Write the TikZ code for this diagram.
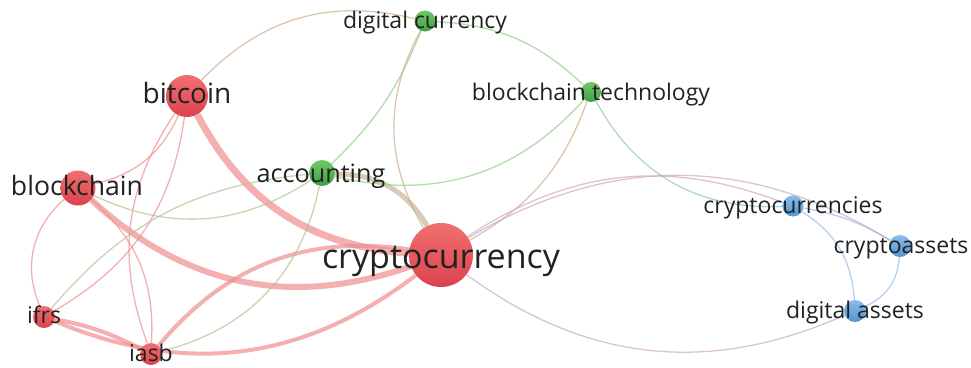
\documentclass[tikz,border=0pt]{standalone}
\usepackage{fontspec}
\setmainfont{Open Sans}
\pgfdeclarelayer{background}
\pgfsetlayers{background,main}
\definecolor{redTop}{RGB}{240,112,112}
\definecolor{redBot}{RGB}{220,66,78}
\definecolor{greenTop}{RGB}{112,200,100}
\definecolor{greenBot}{RGB}{62,160,70}
\definecolor{blueTop}{RGB}{136,188,236}
\definecolor{blueBot}{RGB}{82,148,212}
\definecolor{redEdge}{RGB}{240,140,140}
\definecolor{greenEdge}{RGB}{140,205,130}
\definecolor{tanEdge}{RGB}{200,180,145}
\definecolor{brownEdge}{RGB}{205,170,140}
\definecolor{mixEdge}{RGB}{180,190,140}
\definecolor{blueEdge}{RGB}{150,185,230}
\definecolor{purpEdge}{RGB}{205,165,195}
\definecolor{gbEdge}{RGB}{140,195,190}
\definecolor{labelText}{RGB}{34,34,34}
\begin{document}
\begin{tikzpicture}[x=1pt,y=-1pt,
  edge/.style={line width=1.3pt, draw opacity=0.68},
  redE/.style={edge, draw=redEdge},
  greenE/.style={edge, draw=greenEdge},
  tanE/.style={edge, draw=tanEdge},
  brownE/.style={edge, draw=brownEdge},
  mixE/.style={edge, draw=mixEdge},
  blueE/.style={edge, draw=blueEdge},
  purpE/.style={edge, draw=purpEdge},
  gbE/.style={edge, draw=gbEdge},
  nd/.style={circle, inner sep=0pt, draw=none},
  rnd/.style={nd, top color=redTop, bottom color=redBot},
  gnd/.style={nd, top color=greenTop, bottom color=greenBot},
  bnd/.style={nd, top color=blueTop, bottom color=blueBot},
  lab/.style={anchor=base, inner sep=0pt, text=labelText},
  fs/.style={font=\fontsize{#1}{#1}\selectfont}
]
\useasboundingbox (0,0) rectangle (971,367);

% nodes
\node[rnd, minimum size=64pt] (crypto) at (441,255) {};
\node[rnd, minimum size=42pt] (bitcoin) at (187,96) {};
\node[rnd, minimum size=35pt] (blockchain) at (78,188) {};
\node[gnd, minimum size=26pt] (accounting) at (322,173) {};
\node[gnd, minimum size=21pt] (dcur) at (425,21) {};
\node[gnd, minimum size=20pt] (btech) at (591,92) {};
\node[bnd, minimum size=21pt] (ccies) at (793,206) {};
\node[bnd, minimum size=22pt] (cassets) at (900,246) {};
\node[bnd, minimum size=22pt] (dassets) at (855,311) {};
\node[rnd, minimum size=22pt] (ifrs) at (44,317) {};
\node[rnd, minimum size=22pt] (iasb) at (151,354) {};

% edges
\begin{pgfonlayer}{background}
\fill[white] (0,0) rectangle (971,367);
\draw[redE, line width=7pt] (bitcoin) to[bend right=29] (crypto);
\draw[redE, line width=6pt] (blockchain) to[bend right=31] (crypto);
\draw[redE, line width=4pt] (iasb) to[bend left=29] (crypto);
\draw[redE, line width=4pt] (ifrs) to[bend right=30] (crypto);
\draw[redE, line width=4pt] (ifrs) to[bend left=8] (iasb);
\draw[redE] (blockchain) to[bend right=26] (bitcoin);
\draw[redE] (bitcoin) to[bend left=26] (ifrs);
\draw[redE] (bitcoin) to[bend right=27] (iasb);
\draw[redE] (blockchain) to[bend right=36] (ifrs);
\draw[redE] (blockchain) to[bend left=26] (iasb);
\draw[mixE] (blockchain) to[bend right=29] (accounting);
\draw[mixE] (ifrs) to[bend left=22] (accounting);
\draw[mixE] (iasb) to[bend right=32] (accounting);
\draw[tanE, line width=5pt] (accounting) to[bend left=30] (crypto);
\draw[greenE] (accounting) to[bend right=12] (dcur);
\draw[brownE] (dcur) to[bend right=29] (crypto);
\draw[brownE] (bitcoin) to[bend left=30] (dcur);
\draw[greenE] (dcur) to[bend left=20] (btech);
\draw[greenE] (accounting) to[bend right=31] (btech);
\draw[brownE] (btech) to[bend left=20] (crypto);
\draw[gbE] (btech) to[bend right=32] (ccies);
\draw[purpE] (crypto) to[bend left=27] (ccies);
\draw[purpE] (crypto) to[bend left=31] (cassets);
\draw[purpE] (crypto) to[bend right=30] (dassets);
\draw[blueE] (ccies) to[bend left=10] (cassets);
\draw[blueE] (ccies) to[bend left=27] (dassets);
\draw[blueE] (cassets) to[bend left=31] (dassets);
\end{pgfonlayer}

% labels
\node[lab, fs=34] (crypto-l) at (441,268) {cryptocurrency};
\node[lab, fs=28] (bitcoin-l) at (187,103) {bitcoin};
\node[lab, fs=26.6] (blockchain-l) at (77,195) {blockchain};
\node[lab, fs=25.2] (accounting-l) at (321,182) {accounting};
\node[lab, fs=23] (dcur-l) at (425,28) {digital currency};
\node[lab, fs=23] (btech-l) at (591,100) {blockchain technology};
\node[lab, fs=23] (ccies-l) at (793,213) {cryptocurrencies};
\node[lab, fs=23] (cassets-l) at (901,253) {cryptoassets};
\node[lab, fs=23] (dassets-l) at (855,318) {digital assets};
\node[lab, fs=23] (ifrs-l) at (44,323) {ifrs};
\node[lab, fs=23] (iasb-l) at (151,361) {iasb};
\end{tikzpicture}
\end{document}
